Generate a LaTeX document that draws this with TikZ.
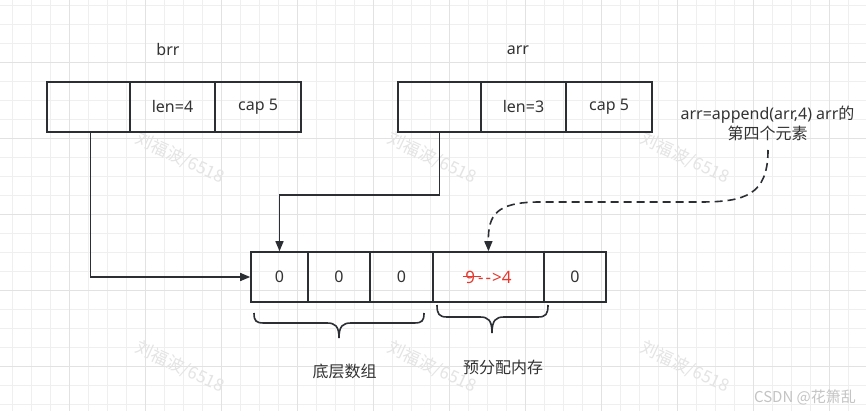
\documentclass[tikz,border=0pt]{standalone}
\usepackage{fontspec}
\setmainfont{Noto Sans}
\newfontfamily\cjk{Noto Sans CJK SC}
\usetikzlibrary{arrows.meta}
\definecolor{ink}{HTML}{2B2F33}
\definecolor{txt}{HTML}{333333}
\definecolor{hot}{HTML}{E5392F}
\definecolor{gridminor}{HTML}{EFEFEF}
\definecolor{gridmajor}{HTML}{E2E2E2}
\definecolor{wmark}{HTML}{E4E4E4}
\tikzset{
  cell/.style={draw=ink, line width=1.6pt, minimum height=50pt, inner sep=0pt,
    text=txt, font=\fontsize{16}{19}\selectfont},
  label/.style={text=txt, font=\fontsize{16}{19}\selectfont, inner sep=0pt},
  cjklabel/.style={text=txt, font=\cjk\fontsize{16}{19}\selectfont, inner sep=0pt},
  conn/.style={draw=ink, line width=1.4pt, -{Triangle[length=10pt,width=8pt]}},
  dashconn/.style={draw=ink, line width=1.6pt, dash pattern=on 8pt off 5pt,
    -{Triangle[length=10pt,width=8pt]}},
  bracket/.style={draw=ink, line width=1.6pt},
  wm/.style={text=wmark, font=\cjk\fontsize{17}{20}\selectfont, rotate=-25, inner sep=0pt},
}
% struck-out old value followed by the new one
\newcommand\oldnew{%
  \rlap{\kern-2pt\raisebox{0.36em}{\rule{18pt}{1.1pt}}}%
  9\kern3pt-\kern2pt-\kern1pt>4}
\begin{document}
\begin{tikzpicture}[x=1pt, y=-1pt]
  \useasboundingbox (0,0) rectangle (866,411);
  \fill[white] (0,0) rectangle (866,411);

  % background grid
  \foreach \gx in {12,31,...,866} \draw[gridminor, line width=0.8pt] (\gx,0) -- (\gx,411);
  \foreach \gy in {5,24,...,411} \draw[gridminor, line width=0.8pt] (0,\gy) -- (866,\gy);
  \foreach \gx in {69,145,...,866} \draw[gridmajor, line width=0.9pt] (\gx,0) -- (\gx,411);
  \foreach \gy in {62,138,...,411} \draw[gridmajor, line width=0.9pt] (0,\gy) -- (866,\gy);

  % watermarks
  \foreach \wx in {180,432,685} {
    \node[wm] at (\wx,158) {刘福波/6518};
    \node[wm] at (\wx,367) {刘福波/6518};
  }
  \node[text=gridmajor!70!gray, font=\cjk\fontsize{15}{18}\selectfont, inner sep=0pt]
    (csdn) at (805,397) {CSDN @花箫乱};

  % slice headers
  \node[label] (brrname) at (168,50) {brr};
  \node[label] (arrname) at (518,50) {arr};

  \node[cell, minimum width=83pt] (b1) at (88.5,107) {};
  \node[cell, minimum width=85pt] (b2) at (172.5,107) {len=4};
  \node[cell, minimum width=86pt] (b3) at (258,107) {cap 5};

  \node[cell, minimum width=83pt] (a1) at (439.5,107) {};
  \node[cell, minimum width=85pt] (a2) at (523.5,107) {len=3};
  \node[cell, minimum width=86pt] (a3) at (609,107) {cap 5};

  % underlying array
  \node[cell, minimum width=57pt]  (m1) at (279.5,277) {0};
  \node[cell, minimum width=62pt]  (m2) at (339,277) {0};
  \node[cell, minimum width=63pt]  (m3) at (401.5,277) {0};
  \node[cell, minimum width=111pt, text=hot, font=\fontsize{17}{20}\selectfont]
    (m4) at (488.5,277) {\oldnew};
  \node[cell, minimum width=62pt]  (m5) at (575,277) {0};

  % pointers
  \draw[conn] ([xshift=2pt]b1.south) |- (m1.west);
  \coordinate (abend) at (439.5,195);
  \draw[conn] (a1.south) -- (abend) -| (m1.north);

  % append note
  \node[label, align=center, font=\fontsize{16}{20}\selectfont] (note) at (767.5,123)
    {arr=append(arr,4) arr{\cjk 的}\\{\cjk 第四个元素}};
  \coordinate (notefoot) at (768,150);
  \draw[dashconn] (notefoot) .. controls (768,195) and (745,202) .. (700,202)
    -- (540,202) .. controls (496,202) and (488,215) .. (m4.north);

  % brackets
  \draw[bracket] (254,313) .. controls (254,321) and (256,323) .. (264,323) -- (327,323)
    .. controls (335,323) and (339,326) .. (339,338)
    .. controls (339,326) and (343,323) .. (351,323) -- (414,323)
    .. controls (422,323) and (424,321) .. (424,313);
  \draw[bracket] (437,305) .. controls (437,314) and (439,317) .. (447,317) -- (480,317)
    .. controls (488,317) and (492,320) .. (492,333)
    .. controls (492,320) and (496,317) .. (504,317) -- (538,317)
    .. controls (546,317) and (548,314) .. (548,305);

  \node[cjklabel] (lbase) at (344.5,371) {底层数组};
  \node[cjklabel] (lpre) at (503,367) {预分配内存};
\end{tikzpicture}
\end{document}
